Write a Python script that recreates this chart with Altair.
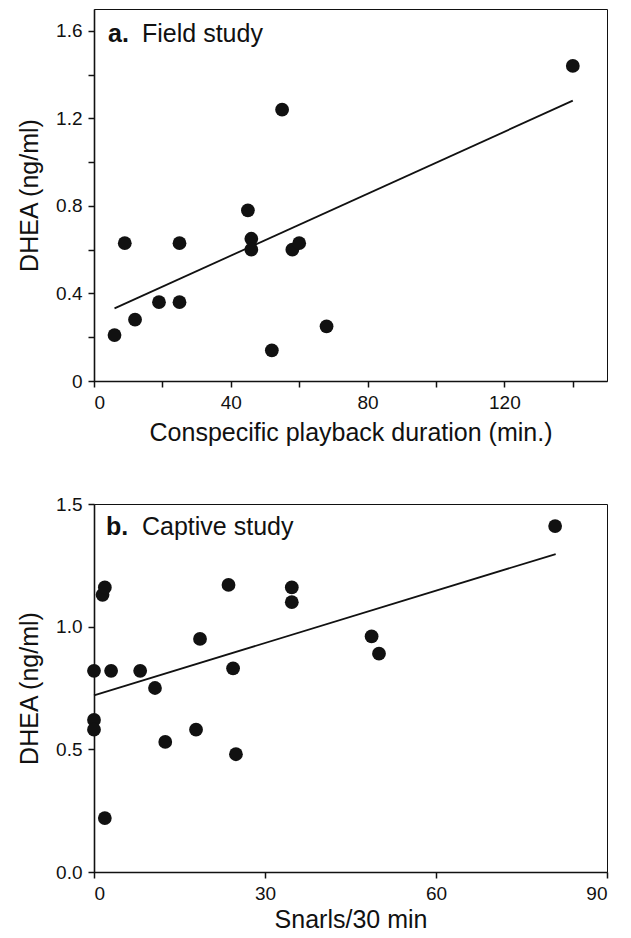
import altair as alt
import pandas as pd

# Panel a: field study
field_x = [6, 9, 12, 19, 25, 25, 45, 46, 46, 52, 55, 58, 60, 68, 140]
field_y = [0.21, 0.63, 0.28, 0.36, 0.36, 0.63, 0.78, 0.65, 0.60, 0.14, 1.24, 0.60, 0.63, 0.25, 1.44]
field_fit_x = [6, 140]
field_fit_y = [0.332, 1.281]

# Panel b: captive study
captive_x = [0, 0, 0, 1.5, 1.9, 1.9, 3.0, 8.1, 10.7, 12.5, 17.9, 18.6, 23.6, 24.4, 24.9, 34.7, 34.7, 48.7, 50.0, 80.9]
captive_y = [0.82, 0.62, 0.58, 1.13, 1.16, 0.22, 0.82, 0.82, 0.75, 0.53, 0.58, 0.95, 1.17, 0.83, 0.48, 1.16, 1.10, 0.96, 0.89, 1.41]
captive_fit_x = [0, 81]
captive_fit_y = [0.72, 1.296]

field_xticks = [0, 20, 40, 60, 80, 100, 120, 140]
field_yticks = [0, 0.2, 0.4, 0.6, 0.8, 1.0, 1.2, 1.4, 1.6]
captive_xticks = [0, 30, 60, 90]
captive_yticks = [0, 0.5, 1.0, 1.5]

FONT = "Liberation Sans"
INK = "#111111"


def panel(xs, ys, fx, fy, xdom, ydom, xaxis, yaxis, letter, label, w, h,
          lx, tx, ty):
    pts = pd.DataFrame({"x": xs, "y": ys})
    fit = pd.DataFrame({"x": fx, "y": fy})
    xs_ = alt.Scale(domain=xdom, nice=False, zero=False)
    ys_ = alt.Scale(domain=ydom, nice=False, zero=False)
    points = alt.Chart(pts).mark_circle(size=190, color=INK, opacity=1).encode(
        x=alt.X("x:Q", scale=xs_, axis=xaxis),
        y=alt.Y("y:Q", scale=ys_, axis=yaxis),
    )
    line = alt.Chart(fit).mark_line(color=INK, strokeWidth=1.8).encode(
        x=alt.X("x:Q", scale=xs_),
        y=alt.Y("y:Q", scale=ys_),
    )
    t1 = alt.Chart(pd.DataFrame({"t": [letter]})).mark_text(
        font=FONT, fontSize=25, fontWeight="bold", align="left",
        baseline="alphabetic", color=INK,
    ).encode(text="t:N", x=alt.value(lx), y=alt.value(ty))
    t2 = alt.Chart(pd.DataFrame({"t": [label]})).mark_text(
        font=FONT, fontSize=25, align="left", baseline="alphabetic", color=INK,
    ).encode(text="t:N", x=alt.value(tx), y=alt.value(ty))
    return alt.layer(line, points, t1, t2).properties(width=w, height=h)


axis_common = dict(labelFontSize=19, titleFontSize=25, labelPadding=6,
                   tickSize=6, grid=False)

a_x = alt.Axis(values=field_xticks, title="Conspecific playback duration (min.)",
               labelExpr="datum.value % 40 == 0 ? datum.label : ''",
               titlePadding=8, **axis_common)
a_y = alt.Axis(values=field_yticks, title="DHEA (ng/ml)",
               labelExpr="round(datum.value*10) % 4 == 0 ? (datum.value == 0 ? '0' : format(datum.value, '.1f')) : ''",
               titlePadding=13, **axis_common)

b_x = alt.Axis(values=captive_xticks, title="Snarls/30 min", format="d",
               titlePadding=4, **axis_common)
b_y = alt.Axis(values=captive_yticks, title="DHEA (ng/ml)", format=".1f",
               titlePadding=13, **axis_common)

pa = panel(field_x, field_y, field_fit_x, field_fit_y, [0, 150], [0, 1.7],
           a_x, a_y, "a.", "Field study", 513, 372, 14, 48, 33)
pb = panel(captive_x, captive_y, captive_fit_x, captive_fit_y, [0, 90], [0, 1.5],
           b_x, b_y, "b.", "Captive study", 513, 368, 12, 48, 31)

chart = alt.vconcat(pa, pb, spacing=48).properties(
    padding={"left": 9, "top": 0, "right": 2, "bottom": 0}
).configure(font=FONT).configure_axis(
    labelFont=FONT, titleFont=FONT, labelColor=INK, titleColor=INK,
    tickColor=INK, domainColor=INK, domainWidth=1.6, tickWidth=1.5,
    titleFontWeight="normal",
).configure_view(stroke=INK, strokeWidth=1)

chart.save("out.html", embed_options={"renderer": "svg", "actions": False})
